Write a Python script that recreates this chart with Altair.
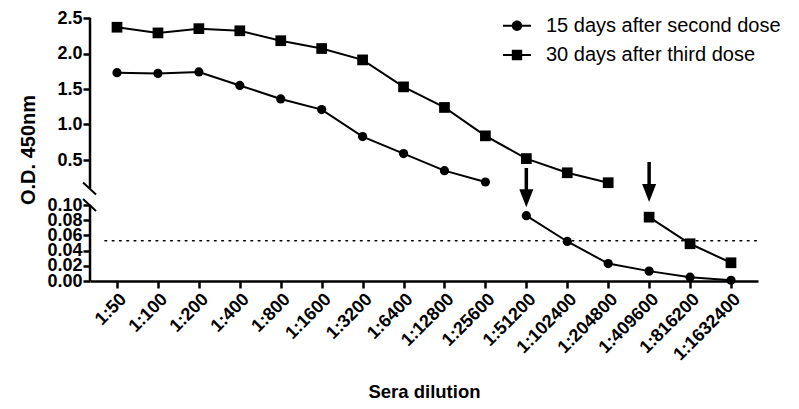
import altair as alt
import pandas as pd

# ---------------- data ----------------
categories = ["1:50", "1:100", "1:200", "1:400", "1:800", "1:1600", "1:3200",
              "1:6400", "1:12800", "1:25600", "1:51200", "1:102400", "1:204800",
              "1:409600", "1:816200", "1:1632400"]
series_names = ["15 days after second dose", "30 days after third dose"]
od_second = [1.73, 1.72, 1.74, 1.55, 1.36, 1.21, 0.83, 0.59, 0.35, 0.19,
             0.086, 0.052, 0.023, 0.013, 0.005, 0.001]
od_third = [2.37, 2.29, 2.35, 2.32, 2.18, 2.07, 1.91, 1.53, 1.24, 0.84,
            0.52, 0.32, 0.18, 0.084, 0.049, 0.024]
cutoff = [0.053]
y_ticks_low = [0.00, 0.02, 0.04, 0.06, 0.08, 0.10]
y_ticks_high = [0.5, 1.0, 1.5, 2.0, 2.5]
arrow_cats = ["1:51200", "1:409600"]
arrow_top = [0.387, 0.472]      # O.D. on the upper segment
arrow_tip = [0.097, 0.104]      # O.D. on the lower segment's scale
break_at = 0.10
seg_low = [0.0, 0.10]
seg_high = [0.10, 2.5]

# ---------------- broken-axis geometry ----------------
LOW_K = 760.0      # display units per O.D. (lower segment)
HIGH_K = 71.0      # display units per O.D. (upper segment)
HIGH_BASE = 92.6   # display coordinate of 0.10 on the upper segment
H = 263
W = 668
FONT = "Liberation Sans"


def disp(v, seg):
    return v * LOW_K if seg == "low" else HIGH_BASE + (v - break_at) * HIGH_K


def yd_expr(field, seg_field="seg"):
    return (f"datum.{seg_field} == 'low' ? datum.{field} * {LOW_K} : "
            f"{HIGH_BASE} + (datum.{field} - {break_at}) * {HIGH_K}")


tick_values = [disp(v, "low") for v in y_ticks_low] + [disp(v, "high") for v in y_ticks_high]
label_expr = (f"datum.value < 84 ? format(datum.value / {LOW_K}, '.2f') : "
              f"format({break_at} + (datum.value - {HIGH_BASE}) / {HIGH_K}, '.1f')")

rows = []
for name, vals in zip(series_names, [od_second, od_third]):
    for i, (c, v) in enumerate(zip(categories, vals)):
        rows.append({"cat": c, "idx": i, "series": name, "od": v})
df = pd.DataFrame(rows)

cut_df = pd.DataFrame({"od": cutoff, "seg": ["low"] * len(cutoff)})
axis_df = pd.DataFrame({"seg": ["low", "high"], "lo": [seg_low[0], seg_high[0]],
                        "hi": [seg_low[1], seg_high[1]]})
brk_df = pd.DataFrame({"seg": ["low", "high"], "od": [break_at, break_at]})
arr_df = pd.DataFrame({"cat": arrow_cats, "top": arrow_top, "tip": arrow_tip,
                       "segt": ["high"] * 2})

x_scale = alt.Scale(type="point", domain=categories, padding=0.66)
y_scale = alt.Scale(domain=[0, H], nice=False, zero=False)

x_axis = alt.Axis(labelAngle=-45, labelFont=FONT, labelFontWeight="bold",
                  labelFontSize=18, labelColor="black", labelPadding=2,
                  domainColor="black", domainWidth=2.5, tickColor="black",
                  tickWidth=2.5, tickSize=7, grid=False,
                  title="Sera dilution", titleFont=FONT, titleFontSize=18.5,
                  titleFontWeight="bold", titleColor="black", titleY=116,
                  titleBaseline="alphabetic")
y_axis = alt.Axis(values=tick_values, labelExpr=label_expr, domain=False,
                  grid=False, tickColor="black", tickWidth=2.5, tickSize=7,
                  labelFont=FONT, labelFontWeight="bold", labelFontSize=18,
                  labelColor="black", labelPadding=1, labelOverlap=False,
                  labelFlush=False, labelBound=False,
                  title="O.D. 450nm", titleFont=FONT, titleFontSize=20,
                  titleFontWeight="bold", titleColor="black", titleX=-56,
                  titleY=H / 2, titleBaseline="alphabetic", titleAngle=-90)


def X():
    return alt.X("cat:O", scale=x_scale, axis=x_axis)


def Yf(f):
    return alt.Y(f"{f}:Q", scale=y_scale, axis=y_axis)


base = alt.Chart(df).transform_calculate(
    seg=f"datum.od <= {break_at} ? 'low' : 'high'"
).transform_calculate(yd=yd_expr("od"))

points = base.mark_point(filled=True, color="black", opacity=1).encode(
    x=X(), y=Yf("yd"),
    shape=alt.Shape("series:N", scale=alt.Scale(domain=series_names, range=["circle", "square"]), legend=None),
    size=alt.Size("series:N", scale=alt.Scale(domain=series_names, range=[85, 115]), legend=None))

cut_layer = alt.Chart(cut_df).transform_calculate(yd=yd_expr("od")).mark_rule(
    color="black", strokeWidth=1.6, strokeDash=[1.6, 5.7], strokeCap="round"
).encode(y=Yf("yd"), x=alt.value(15), x2=alt.value(W))

lines = base.mark_line(color="black", strokeWidth=2).encode(
    x=X(), y=Yf("yd"), detail=["series:N", "seg:N"], order="idx:Q")

axis_lines = alt.Chart(axis_df).transform_calculate(
    y1=yd_expr("lo"), y2=yd_expr("hi")
).mark_rule(color="black", strokeWidth=2.5).encode(
    x=alt.value(0), y=Yf("y1"), y2="y2:Q")

slashes = alt.Chart(brk_df).transform_calculate(yd=yd_expr("od")).transform_calculate(
    ya="datum.yd + 6", yb="datum.yd - 6"
).mark_rule(color="black", strokeWidth=2).encode(
    x=alt.value(-7), x2=alt.value(6), y=Yf("ya"), y2="yb:Q")

arrow_shaft = alt.Chart(arr_df).transform_calculate(
    yt=yd_expr("top", "segt"), yh=f"datum.tip * {LOW_K} + 9"
).mark_rule(color="black", strokeWidth=3.5).encode(
    x=X(), y=Yf("yt"), y2="yh:Q")

arrow_head = alt.Chart(arr_df).transform_calculate(
    yh=f"datum.tip * {LOW_K} + 9"
).mark_point(shape="M-0.78,-1L0.78,-1L0,1Z", filled=True, color="black",
             size=324, opacity=1).encode(x=X(), y=Yf("yh"))

legend_paths = [
    "M-1,-0.075L1,-0.075L1,0.075L-1,0.075Z"
    "M-0.37,0A0.37,0.37,0,1,1,0.37,0A0.37,0.37,0,1,1,-0.37,0Z",
    "M-1,-0.075L1,-0.075L1,0.075L-1,0.075Z"
    "M-0.37,-0.37L0.37,-0.37L0.37,0.37L-0.37,0.37Z",
]
legend_layer = base.transform_filter("datum.idx < 0").mark_point(
    filled=True, color="black", opacity=1
).encode(
    x=X(), y=Yf("yd"),
    shape=alt.Shape("series:N", scale=alt.Scale(domain=series_names, range=legend_paths),
                    legend=alt.Legend(title=None, orient="none", legendX=413, legendY=-6.3,
                                      labelFont=FONT, labelFontSize=20, labelColor="black",
                                      labelLimit=0, symbolSize=784,
                                      symbolFillColor="black", symbolStrokeWidth=0,
                                      labelOffset=15, rowPadding=5.3, padding=0)))

chart = alt.layer(
    points, cut_layer, lines, axis_lines, slashes, arrow_shaft, arrow_head, legend_layer
).resolve_scale(shape="independent", size="independent").properties(
    width=W, height=H, autosize="none",
    padding={"left": 82, "top": 10, "right": 30, "bottom": 120},
).configure_view(stroke=None)

chart.save("out.html", embed_options={"renderer": "svg", "actions": False})
